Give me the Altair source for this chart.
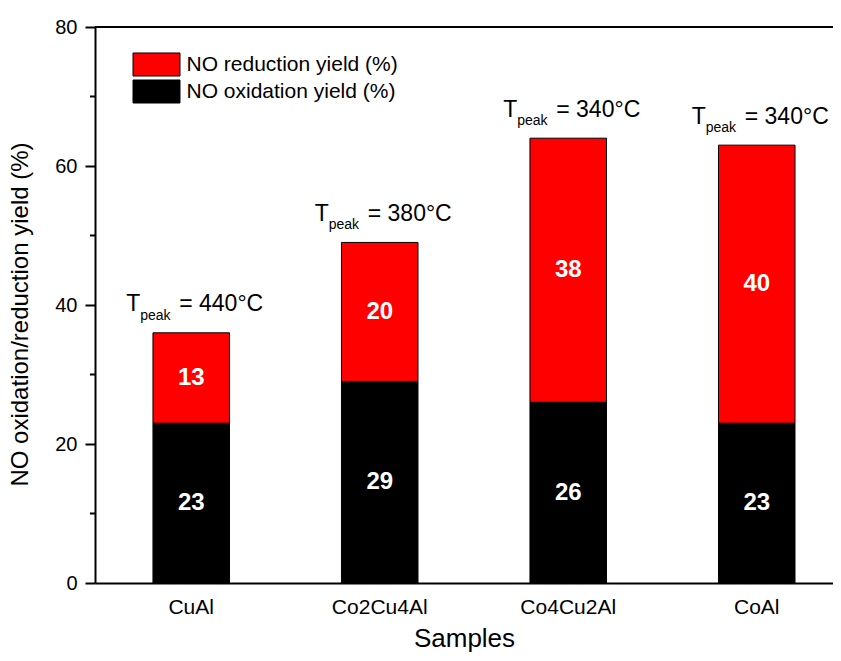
import altair as alt
import pandas as pd

samples = ["CuAl", "Co2Cu4Al", "Co4Cu2Al", "CoAl"]
oxidation = [23, 29, 26, 23]
reduction = [13, 20, 38, 40]
t_peak = [440, 380, 340, 340]
series_names = ["NO reduction yield (%)", "NO oxidation yield (%)"]
series_colors = ["#ff0000", "#000000"]
y_major = [0, 20, 40, 60, 80]
y_minor = [10, 30, 50, 70]

rows = []
for s, ox, red in zip(samples, oxidation, reduction):
    rows.append(dict(sample=s, series=series_names[1], lo=0, hi=ox, label=str(ox)))
    rows.append(dict(sample=s, series=series_names[0], lo=ox, hi=ox + red, label=str(red)))
seg = pd.DataFrame(rows)
seg["mid"] = (seg["lo"] + seg["hi"]) / 2

ann = pd.DataFrame(dict(
    sample=samples,
    total=[o + r for o, r in zip(oxidation, reduction)],
    rest=[f"= {t}°C" for t in t_peak],
))
minor = pd.DataFrame(dict(v=y_minor))
frame = pd.DataFrame(dict(a=[0]))

W, H = 738, 556
FONT = "Liberation Sans, Arial, sans-serif"

x_scale = alt.Scale(domain=samples, paddingInner=0.594, paddingOuter=0.2545, align=0.604)
y_scale = alt.Scale(domain=[0, 80], nice=False)

x_axis = alt.Axis(
    title="Samples", labelAngle=0, ticks=False, tickSize=0,
    domainColor="black", domainWidth=2,
    labelFont=FONT, labelFontSize=21, labelColor="black",
    labelPadding=30, labelBaseline="alphabetic",
    titleFont=FONT, titleFontSize=26, titleFontWeight="normal", titleColor="black",
    titleY=63, titleBaseline="alphabetic",
)
y_axis = alt.Axis(
    title="NO oxidation/reduction yield (%)", values=y_major, grid=False,
    tickSize=10, tickWidth=2, tickColor="black",
    domainColor="black", domainWidth=2,
    labelFont=FONT, labelFontSize=20, labelColor="black", labelPadding=8,
    titleFont=FONT, titleFontSize=24, titleFontWeight="normal", titleColor="black",
    titleAngle=270, titleX=-68, titleY=287, titleBaseline="alphabetic",
)

X = alt.X("sample:N", scale=x_scale, sort=samples, axis=x_axis)

bars = alt.Chart(seg).mark_bar(stroke="black", strokeWidth=1, opacity=1).encode(
    x=X,
    y=alt.Y("hi:Q", scale=y_scale, axis=y_axis),
    y2="lo:Q",
    color=alt.Color(
        "series:N",
        scale=alt.Scale(domain=series_names, range=series_colors),
        legend=alt.Legend(
            title=None, orient="none", legendX=49, legendY=25,
            symbolType="M-2,-0.98L2,-0.98L2,0.98L-2,0.98Z", symbolSize=552,
            symbolStrokeColor="black", symbolStrokeWidth=1, symbolOpacity=1,
            labelFont=FONT, labelFontSize=21, labelColor="black",
            labelOffset=17.5, rowPadding=-5, labelLimit=400,
        ),
    ),
)

seg_labels = alt.Chart(seg).mark_text(
    color="white", fontWeight="bold", fontSize=24, font=FONT,
    align="center", baseline="middle",
).encode(
    x=X,
    y=alt.Y("mid:Q", scale=y_scale, axis=y_axis),
    text="label:N",
)

t_main = alt.Chart(ann).mark_text(
    align="left", baseline="alphabetic", dx=-65, dy=-21.5,
    fontSize=23, font=FONT, color="black",
).encode(x=X, y=alt.Y("total:Q", scale=y_scale, axis=y_axis), text=alt.value("T"))

t_sub = alt.Chart(ann).mark_text(
    align="left", baseline="alphabetic", dx=-51, dy=-13,
    fontSize=14, font=FONT, color="black",
).encode(x=X, y=alt.Y("total:Q", scale=y_scale, axis=y_axis), text=alt.value("peak"))

t_rest = alt.Chart(ann).mark_text(
    align="left", baseline="alphabetic", dx=-12, dy=-21.5,
    fontSize=23, font=FONT, color="black",
).encode(x=X, y=alt.Y("total:Q", scale=y_scale, axis=y_axis), text="rest:N")

minor_ticks = alt.Chart(minor).mark_rule(color="black", strokeWidth=2).encode(
    x=alt.value(-5), x2=alt.value(0),
    y=alt.Y("v:Q", scale=y_scale, axis=y_axis),
)

top_line = alt.Chart(frame).mark_rule(color="black", strokeWidth=2).encode(
    x=alt.value(0), x2=alt.value(W), y=alt.value(0),
)

chart = alt.layer(bars, seg_labels, t_main, t_sub, t_rest, minor_ticks, top_line).properties(
    width=W, height=H,
    padding={"left": 87, "top": 19, "right": 0, "bottom": 69},
    autosize=alt.AutoSizeParams(type="none"),
).configure_view(stroke=None)

chart.save("out.html", embed_options={"renderer": "svg", "actions": False})
